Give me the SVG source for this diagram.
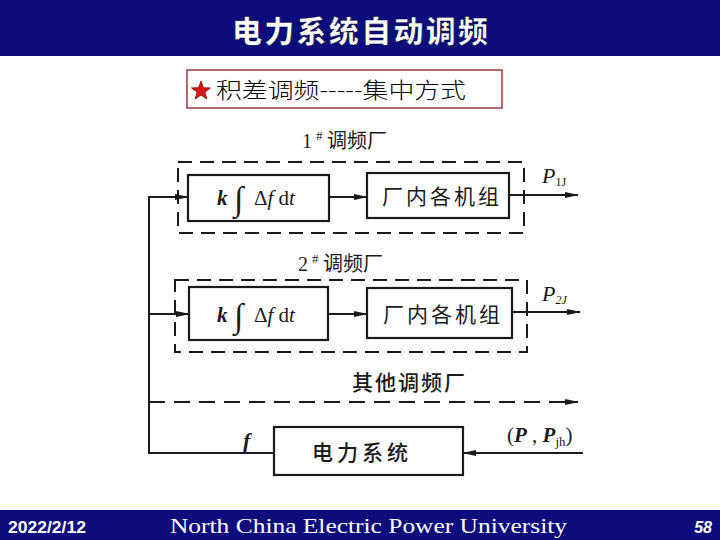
<svg xmlns="http://www.w3.org/2000/svg" width="720" height="540" viewBox="0 0 720 540">
<style>
.band{fill:#0c0c7c}
.box{fill:none;stroke:#1a1a1a;stroke-width:2.2}
.dbox{fill:none;stroke:#1a1a1a;stroke-width:2;stroke-dasharray:14 8}
.ln{fill:none;stroke:#1a1a1a;stroke-width:2}
.cjk{font-family:"Noto Sans CJK SC","Noto Sans CJK JP",sans-serif;fill:#1a1a1a}
.math{font-family:"Liberation Serif","DejaVu Serif",serif;fill:#1a1a1a}
</style>
<defs>
<marker id="ah" markerWidth="14" markerHeight="8" refX="13" refY="4" orient="auto" markerUnits="userSpaceOnUse">
<path d="M0,1 L14,4 L0,7 z" fill="#1a1a1a"/>
</marker>
</defs>
<rect x="0" y="0" width="720" height="540" fill="#ffffff"/>
<g id="header">
<rect class="band" x="0" y="0" width="720" height="56"/>
<text x="360" y="42" text-anchor="middle" font-family="'Noto Sans CJK SC',sans-serif" font-weight="900" font-size="30" fill="#ffffff" stroke="#000033" stroke-width="0.6" textLength="256">电力系统自动调频</text>
</g>
<g id="subtitle">
<rect x="187" y="70" width="315" height="38" fill="#ffffff" stroke="#9c3a3a" stroke-width="1.5"/>
<polygon points="201,81 203.4,87.7 210.5,87.9 204.9,92.2 206.9,99 201,95 195.1,99 197.1,92.2 191.5,87.9 198.6,87.7" fill="#d81414" stroke="#8a0000" stroke-width="0.8"/>
<text x="216" y="98" font-family="'Noto Sans CJK SC',sans-serif" font-weight="300" font-size="22" fill="#000" textLength="250" lengthAdjust="spacingAndGlyphs">积差调频-----集中方式</text>
</g>
<g id="plant1">
<text x="302" y="148" class="math" font-size="20">1</text>
<text x="316" y="140" class="math" font-size="13">#</text>
<text x="327" y="148" class="cjk" font-size="20">调频厂</text>
<rect class="dbox" x="178" y="162" width="346" height="71"/>
</g>
<g id="integ1">
<rect class="box" x="188" y="175" width="141" height="46"/>
<text x="217" y="205" class="math" font-size="21" font-style="italic" font-weight="bold">k</text>
<text x="234" y="210" class="math" font-size="34" font-style="italic">∫</text>
<text x="254" y="205" class="math" font-size="21">Δ<tspan font-style="italic">f</tspan> d<tspan font-style="italic">t</tspan></text>
</g>
<g id="units1">
<rect class="box" x="367" y="173" width="142" height="45"/>
<text x="382" y="204" class="cjk" font-size="21" letter-spacing="3">厂内各机组</text>
</g>
<g id="plant2">
<text x="298" y="271" class="math" font-size="20">2</text>
<text x="312" y="263" class="math" font-size="13">#</text>
<text x="323" y="271" class="cjk" font-size="20">调频厂</text>
<rect class="dbox" x="175" y="280" width="352" height="72"/>
</g>
<g id="integ2">
<rect class="box" x="189" y="287" width="139" height="53"/>
<text x="217" y="322" class="math" font-size="21" font-style="italic" font-weight="bold">k</text>
<text x="234" y="327" class="math" font-size="34" font-style="italic">∫</text>
<text x="254" y="322" class="math" font-size="21">Δ<tspan font-style="italic">f</tspan> d<tspan font-style="italic">t</tspan></text>
</g>
<g id="units2">
<rect class="box" x="367" y="288" width="145" height="50"/>
<text x="383" y="322" class="cjk" font-size="21" letter-spacing="3">厂内各机组</text>
</g>
<g id="others">
<text x="352" y="390" class="cjk" font-size="21" font-weight="500" letter-spacing="2">其他调频厂</text>
</g>
<g id="powersys">
<rect class="box" x="274" y="427" width="189" height="48"/>
<text x="312" y="460" class="cjk" font-size="21" font-weight="500" letter-spacing="4">电力系统</text>
</g>
<g id="labels">
<text x="542" y="183" class="math" font-size="22" font-style="italic">P<tspan font-size="12" dy="3" font-style="normal">1J</tspan></text>
<text x="542" y="301" class="math" font-size="22" font-style="italic">P<tspan font-size="12" dy="3" font-style="italic">2J</tspan></text>
<text x="243" y="448" class="math" font-size="22" font-style="italic" font-weight="bold">f</text>
<text x="507" y="442" class="math" font-size="21">(<tspan font-style="italic" font-weight="bold">P</tspan> , <tspan font-style="italic" font-weight="bold">P</tspan><tspan font-size="13" dy="4">jh</tspan><tspan dy="-4">)</tspan></text>
</g>
<g id="connectors">
<polyline class="ln" points="274,453 149,453 149,197 188,197" marker-end="url(#ah)"/>
<line class="ln" x1="149" y1="314" x2="189" y2="314" marker-end="url(#ah)"/>
<line class="ln" x1="149" y1="402" x2="578" y2="402" stroke-dasharray="16 9" marker-end="url(#ah)"/>
<line class="ln" x1="329" y1="197" x2="367" y2="197" marker-end="url(#ah)"/>
<line class="ln" x1="328" y1="314" x2="367" y2="314" marker-end="url(#ah)"/>
<line class="ln" x1="509" y1="195" x2="578" y2="195" stroke-width="1.5" marker-end="url(#ah)"/>
<line class="ln" x1="512" y1="312" x2="580" y2="312" marker-end="url(#ah)"/>
<line class="ln" x1="583" y1="453" x2="463" y2="453" marker-end="url(#ah)"/>
</g>
<g id="footer">
<rect class="band" x="0" y="510" width="720" height="30"/>
<text x="8" y="533" font-family="'Liberation Sans',sans-serif" font-weight="bold" font-size="16" fill="#ffffff" textLength="78" lengthAdjust="spacingAndGlyphs">2022/2/12</text>
<text x="170" y="533" font-family="'Liberation Serif',serif" font-size="22" fill="#ffffff" textLength="397" lengthAdjust="spacingAndGlyphs">North China Electric Power University</text>
<text x="712" y="533" text-anchor="end" font-family="'Liberation Sans',sans-serif" font-weight="bold" font-style="italic" font-size="16" fill="#ffffff">58</text>
</g>
</svg>
